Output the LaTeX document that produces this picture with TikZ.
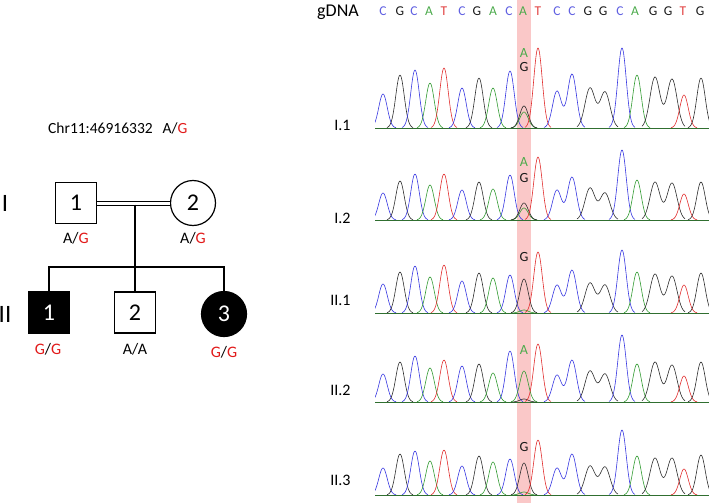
\documentclass[tikz,border=0pt]{standalone}
\usepackage{fontspec}
\setmainfont{Carlito}
\definecolor{seqC}{RGB}{95,95,225}
\definecolor{seqA}{RGB}{75,170,75}
\definecolor{seqT}{RGB}{225,65,65}
\definecolor{seqG}{RGB}{25,25,25}
\definecolor{trC}{RGB}{55,55,225}
\definecolor{trA}{RGB}{50,155,50}
\definecolor{trT}{RGB}{225,45,45}
\definecolor{trG}{RGB}{45,45,45}
\definecolor{hilite}{RGB}{250,200,200}
\definecolor{allele}{RGB}{225,25,25}
\tikzstyle{male}=[rectangle, draw, line width=1.2pt, minimum size=41pt, inner sep=0pt, font=\fontsize{24}{24}\selectfont]
\tikzstyle{female}=[circle, draw, line width=1.2pt, minimum size=45pt, inner sep=0pt, font=\fontsize{24}{24}\selectfont]
\tikzstyle{affected}=[fill=black, text=white]
\tikzstyle{link}=[line width=1.2pt]
\tikzstyle{geno}=[font=\fontsize{16}{16}\selectfont]
\tikzstyle{gen}=[font=\fontsize{25}{25}\selectfont]
\tikzstyle{sample}=[anchor=east, font=\fontsize{16}{16}\selectfont]
\tikzstyle{base}=[font=\fontsize{13.5}{13.5}\selectfont]
\tikzstyle{call}=[font=\fontsize{14}{14}\selectfont]
\tikzstyle{peak}=[line width=0.6pt, line join=round]
\newcommand{\altG}{\textcolor{allele}{G}}
% one chromatogram row: baseline y, then x1/x2/colour/h1/h2/width
\newcommand{\tracerow}[2]{%
  \draw[peak, trA!60!trG] (375,#1) -- (709,#1);
  \foreach \pa/\pb/\pc/\ha/\hb/\w in {#2}{%
    \draw[peak, \pc] plot[smooth, domain=\pa-13:\pb+13, samples=41]
      (\x, {#1-\ha*exp(-(\x-\pa)^2/\w)-\hb*exp(-(\x-\pb)^2/\w)});
  }%
}
\begin{document}
\begin{tikzpicture}[x=1pt, y=-1pt]
  \useasboundingbox (0,0) rectangle (709,503);

  %% Pedigree
  \draw (48,128) node[anchor=west, inner sep=0pt, font=\fontsize{15.5}{15.5}\selectfont] (chr) {Chr11:46916332\hspace{10pt}A/\altG};

  \draw (5,203) node[gen] (GI) {I};
  \draw (5,314) node[gen] (GII) {II};

  \draw (76,203) node[male] (I1) {1};
  \draw (193,203) node[female] (I2) {2};
  \draw[double, double distance=3pt, line width=1pt] (I1) -- (I2);
  \coordinate (mate) at (135,204.5);
  \coordinate (sibs) at (135,267);

  \draw (49,312.5) node[male, affected] (II1) {1};
  \draw (135,312.5) node[male] (II2) {2};
  \draw (224,314) node[female, affected] (II3) {3};

  \draw[link] (mate) -- (sibs);
  \draw[link] (sibs) -- (II2);
  \draw[link] (II1.north) |- (sibs) -| (II3.north);

  \draw (76,238) node[geno] (gI1) {A/\altG};
  \draw (193,238) node[geno] (gI2) {A/\altG};
  \draw (48,349) node[geno] (gII1) {\altG/\altG};
  \draw (135,349) node[geno] (gII2) {A/A};
  \draw (224,352) node[geno] (gII3) {\altG/\altG};

  %% Sequencing
  \fill[hilite] (517,0) rectangle (531,503);

  \draw (317,12) node[anchor=west, inner sep=0pt, font=\fontsize{18}{18}\selectfont] (gdna) {gDNA};
  \foreach \sx/\sb/\sc in {383/C/seqC, 400/G/seqG, 414/C/seqC, 429/A/seqA, 444/T/seqT,
      462/C/seqC, 477/G/seqG, 493/A/seqA, 509/C/seqC, 523/A/seqA, 538/T/seqT,
      557/C/seqC, 572/C/seqC, 588/G/seqG, 603/G/seqG, 620/C/seqC, 635/A/seqA,
      653/G/seqG, 668/G/seqG, 683/T/seqT, 700/G/seqG}
    \draw (\sx,11) node[base, text=\sc] (s\sx) {\sb};

  \begin{scope}
    \clip (375,0) rectangle (709,503);
    %%% I.1
    \tracerow{128}{383/383/trC/34/0/36, 400/400/trG/53/0/36, 415/415/trC/58/0/36,
      430/430/trA/45/0/36, 444/444/trT/60/0/36, 462/462/trC/40/0/36,
      479/479/trG/50/0/36, 493/493/trA/40/0/36, 510/510/trC/57/0/36,
      524/524/trA/16/0/36, 524/524/trG/22/0/36, 538/538/trT/80/0/36,
      557/572/trC/37/54/40, 590/605/trG/40/36/50, 622/622/trC/80/0/36,
      637/637/trA/53/0/36, 655/672/trG/51/49/50, 684/684/trT/33/0/36,
      701/701/trG/50/0/36}
    %%% I.2
    \tracerow{220}{383/383/trC/27/0/36, 400/400/trG/39/0/36, 415/415/trC/46/0/36,
      430/430/trA/35/0/36, 444/444/trT/46/0/36, 462/462/trC/30/0/36,
      479/479/trG/38/0/36, 493/493/trA/31/0/36, 510/510/trC/45/0/36,
      524/524/trA/12/0/36, 524/524/trG/17/0/36, 538/538/trT/63/0/36,
      557/572/trC/30/43/40, 590/605/trG/32/27/50, 622/622/trC/70/0/36,
      637/637/trA/40/0/36, 655/672/trG/38/37/50, 684/684/trT/26/0/36,
      701/701/trG/38/0/36}
    %%% II.1
    \tracerow{313}{383/383/trC/29/0/36, 400/400/trG/41/0/36, 415/415/trC/47/0/36,
      430/430/trA/36/0/36, 444/444/trT/48/0/36, 462/462/trC/32/0/36,
      479/479/trG/40/0/36, 493/493/trA/35/0/36, 510/510/trC/38/0/36,
      524/524/trA/3/0/36, 524/524/trG/34/0/36, 538/538/trT/61/0/36,
      557/572/trC/28/43/40, 590/605/trG/30/28/50, 622/622/trC/63/0/36,
      637/637/trA/41/0/36, 655/672/trG/39/37/50, 684/684/trT/28/0/36,
      701/701/trG/40/0/36}
    %%% II.2
    \tracerow{402}{383/383/trC/28/0/36, 400/400/trG/40/0/36, 415/415/trC/46/0/36,
      430/430/trA/34/0/36, 444/444/trT/42/0/36, 462/462/trC/36/0/36,
      479/479/trG/38/0/36, 493/493/trA/29/0/36, 510/510/trC/51/0/36,
      524/524/trG/3/0/36, 524/524/trA/31/0/36, 538/538/trT/58/0/36,
      557/572/trC/27/42/40, 590/605/trG/31/28/50, 622/622/trC/67/0/36,
      637/637/trA/38/0/36, 655/672/trG/40/37/50, 684/684/trT/26/0/36,
      701/701/trG/40/0/36}
    %%% II.3
    \tracerow{495}{383/383/trC/27/0/36, 400/400/trG/41/0/36, 415/415/trC/44/0/36,
      430/430/trA/34/0/36, 444/444/trT/45/0/36, 462/462/trC/29/0/36,
      479/479/trG/39/0/36, 493/493/trA/33/0/36, 510/510/trC/36/0/36,
      524/524/trA/3/0/36, 524/524/trG/32/0/36, 538/538/trT/55/0/36,
      557/572/trC/27/41/40, 590/605/trG/29/28/50, 622/622/trC/65/0/36,
      637/637/trA/39/0/36, 655/672/trG/37/37/50, 684/684/trT/26/0/36,
      701/701/trG/40/0/36}
  \end{scope}

  %%% Sample names
  \draw (354,125) node[sample] (r1) {I.1};
  \draw (354,218) node[sample] (r2) {I.2};
  \draw (354,300) node[sample] (r3) {II.1};
  \draw (354,390) node[sample] (r4) {II.2};
  \draw (354,480) node[sample] (r5) {II.3};

  %%% Base calls
  \draw (524,53) node[call, text=seqA] (c1a) {A};
  \draw (524,67) node[call, text=seqG] (c1g) {G};
  \draw (524,162) node[call, text=seqA] (c2a) {A};
  \draw (524,178) node[call, text=seqG] (c2g) {G};
  \draw (524,257) node[call, text=seqG] (c3g) {G};
  \draw (524,350) node[call, text=seqA] (c4a) {A};
  \draw (524,447) node[call, text=seqG] (c5g) {G};
\end{tikzpicture}
\end{document}
